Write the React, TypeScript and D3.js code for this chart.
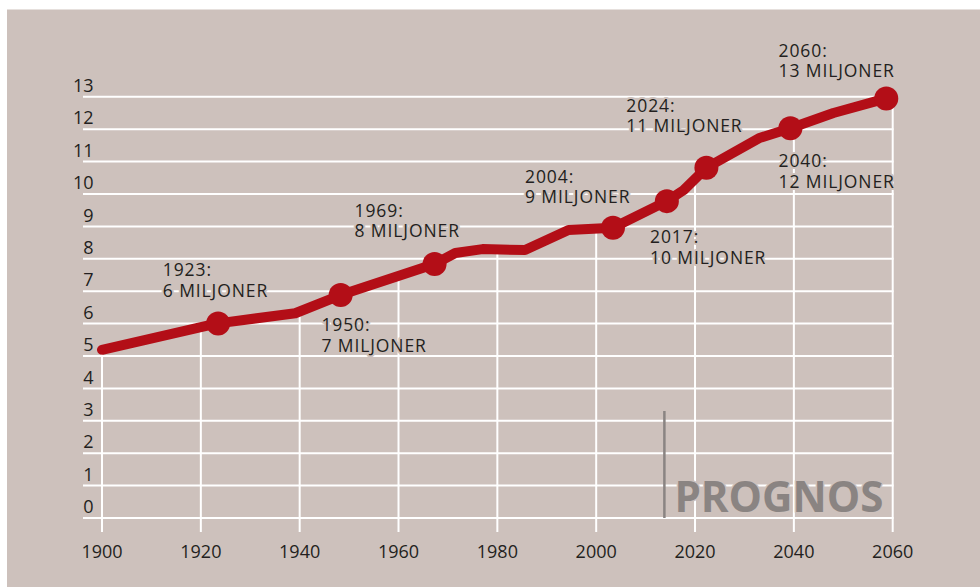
import React from "react";
import * as d3 from "d3";

const lineYears = [1900, 1923.1, 1939.1, 1948.3, 1967.3, 1971.5, 1977, 1985.6, 1994.4, 2003.4, 2014.3, 2017.7, 2022.3, 2032.9, 2039.3, 2048, 2058.7];
const lineValues = [5.19, 6.0, 6.32, 6.88, 7.84, 8.18, 8.3, 8.27, 8.89, 8.96, 9.78, 10.12, 10.81, 11.72, 12.03, 12.5, 12.95];

const dotYears = [1923.5, 1948.3, 1967.3, 2003.4, 2014.3, 2022.3, 2039.3, 2058.7];
const dotValues = [6.0, 6.88, 7.84, 8.96, 9.78, 10.81, 12.03, 12.95];

const labelYears = ["1923:", "1950:", "1969:", "2004:", "2017:", "2024:", "2040:", "2060:"];
const labelTexts = ["6 MILJONER", "7 MILJONER", "8 MILJONER", "9 MILJONER", "10 MILJONER", "11 MILJONER", "12 MILJONER", "13 MILJONER"];
// label anchor positions in data space (year, value) of first baseline
const labelAnchorYears = [1912.3, 1944.4, 1951.1, 1985.6, 2010.9, 2006.1, 2036.9, 2036.9];
const labelAnchorValues = [7.46, 5.76, 9.3, 10.35, 8.48, 12.54, 10.82, 14.24];

const xTicks = [1900, 1920, 1940, 1960, 1980, 2000, 2020, 2040, 2060];
const yTicks = [0, 1, 2, 3, 4, 5, 6, 7, 8, 9, 10, 11, 12, 13];
const prognosYear = 2013.8;
const prognosLabel = "PROGNOS";

const BG = "#cdc1bc";
const RED = "#b30e17";
const TEXT = "#231f20";
const FONT = "'Open Sans', sans-serif";

export default function App() {
  const x = d3.scaleLinear().domain([1900, 2060]).range([102, 892.7]);
  const y = d3.scaleLinear().domain([0, 13]).range([518, 96.8]);

  const pts: [number, number][] = lineYears.map((yr, i) => [yr, lineValues[i]]);
  const line = d3
    .line<[number, number]>()
    .x((d) => x(d[0]))
    .y((d) => y(d[1]));

  const interp = (yr: number) => {
    for (let i = 0; i < pts.length - 1; i++) {
      const [a, va] = pts[i];
      const [b, vb] = pts[i + 1];
      if (yr >= a && yr <= b) return va + ((vb - va) * (yr - a)) / (b - a);
    }
    return pts[pts.length - 1][1];
  };

  const halo = {
    stroke: BG,
    strokeWidth: 4,
    paintOrder: "stroke" as const,
    strokeLinejoin: "round" as const,
  };

  return (
    <svg
      width={980}
      height={587}
      style={{ position: "absolute", left: 0, top: 0 }}
    >
      <rect x={0} y={0} width={980} height={587} fill="#fff" />
      <rect x={7} y={9.5} width={973} height={577.5} fill={BG} />

      {yTicks.map((t) => (
        <line key={"h" + t} x1={83} x2={893.5} y1={y(t)} y2={y(t)} stroke="#fff" strokeWidth={2} />
      ))}
      {xTicks.map((t) => (
        <line key={"v" + t} x1={x(t)} x2={x(t)} y1={y(0) + 14} y2={y(interp(t))} stroke="#fff" strokeWidth={2} />
      ))}

      {yTicks.map((t) => (
        <text key={"yl" + t} x={93.5} y={y(t) - 4.8} textAnchor="end" fontFamily={FONT} fontSize={18} fill={TEXT}>
          {t}
        </text>
      ))}
      {xTicks.map((t) => (
        <text key={"xl" + t} x={x(t)} y={558} textAnchor="middle" fontFamily={FONT} fontSize={18} fill={TEXT}>
          {t}
        </text>
      ))}

      <line x1={x(prognosYear)} x2={x(prognosYear)} y1={411} y2={y(0)} stroke="#8a8482" strokeWidth={2.5} />
      <text x={x(prognosYear) + 10} y={511.5} fontFamily={FONT} fontWeight={700} fontSize={43} fill="#8a8482" {...halo} strokeWidth={3} textLength={209} lengthAdjust="spacingAndGlyphs">
        {prognosLabel}
      </text>

      {labelYears.map((l, i) => (
        <g key={"lab" + i}>
          <text x={x(labelAnchorYears[i])} y={y(labelAnchorValues[i])} fontFamily={FONT} fontSize={17.5} fill={TEXT} {...halo} style={{ letterSpacing: "0.9px" }}>
            {l}
          </text>
          <text x={x(labelAnchorYears[i])} y={y(labelAnchorValues[i]) + 20.5} fontFamily={FONT} fontSize={17.5} fill={TEXT} {...halo} style={{ letterSpacing: "0.9px" }}>
            {labelTexts[i]}
          </text>
        </g>
      ))}

      <path d={line(pts) || ""} fill="none" stroke={RED} strokeWidth={10} strokeLinecap="round" strokeLinejoin="round" />
      {dotYears.map((yr, i) => (
        <circle key={"d" + i} cx={x(yr)} cy={y(dotValues[i])} r={12} fill={RED} />
      ))}
    </svg>
  );
}
